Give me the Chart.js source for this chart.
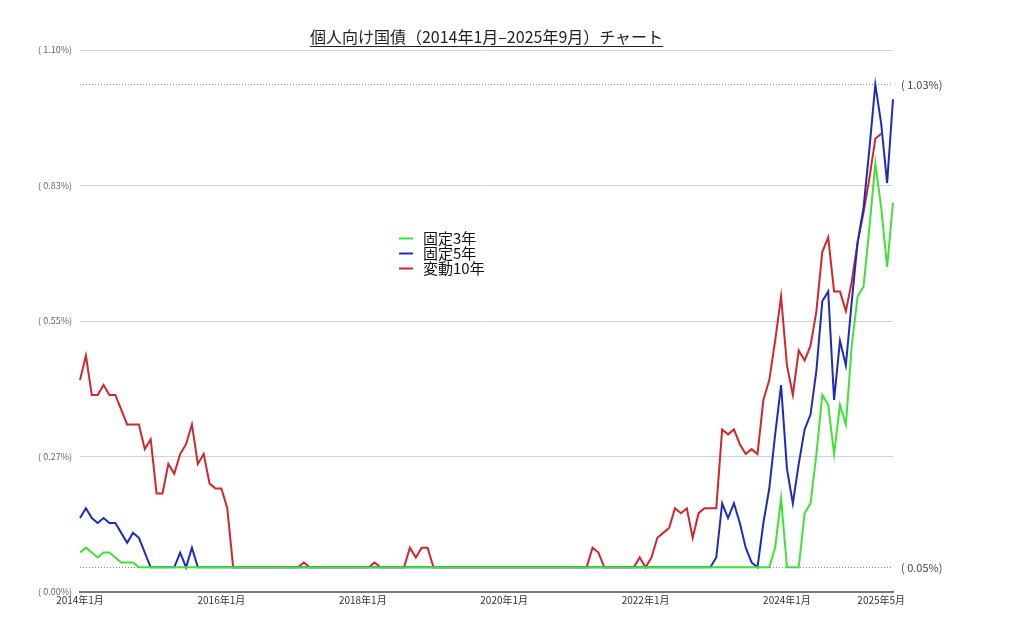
<!DOCTYPE html>
<html lang="ja">
<head>
<meta charset="UTF-8">
<title>個人向け国債チャート</title>
<style>
  html, body { margin: 0; padding: 0; background: #fff; }
  .wrap { position: relative; width: 1024px; height: 622px; }
  canvas { position: absolute; left: 0; top: 0; }
  #title {
    position: absolute; left: 80px; width: 813px; top: 24px;
    text-align: center; color: #222;
    font: 16px "Noto Sans CJK JP", sans-serif;
    text-decoration: underline; text-underline-offset: 3px;
  }
</style>
</head>
<body>
<div class="wrap">
  <canvas id="bondChart" width="1024" height="622"></canvas>
  <div id="title">個人向け国債（2014年1月–2025年9月）チャート</div>
</div>
<script src="https://cdn.jsdelivr.net/npm/chart.js@4.4.1/dist/chart.umd.min.js"></script>
<script>
  // 2014年1月 から 2025年7月 まで毎月
  var startYear = 2014, startMonth = 1, monthCount = 139;

  var fixed3 = [
    0.08, 0.09, 0.08, 0.07, 0.08, 0.08, 0.07, 0.06, 0.06, 0.06, 0.05, 0.05,
    0.05, 0.05, 0.05, 0.05, 0.05, 0.05, 0.05, 0.05, 0.05, 0.05, 0.05, 0.05,
    0.05, 0.05, 0.05, 0.05, 0.05, 0.05, 0.05, 0.05, 0.05, 0.05, 0.05, 0.05,
    0.05, 0.05, 0.05, 0.05, 0.05, 0.05, 0.05, 0.05, 0.05, 0.05, 0.05, 0.05,
    0.05, 0.05, 0.05, 0.05, 0.05, 0.05, 0.05, 0.05, 0.05, 0.05, 0.05, 0.05,
    0.05, 0.05, 0.05, 0.05, 0.05, 0.05, 0.05, 0.05, 0.05, 0.05, 0.05, 0.05,
    0.05, 0.05, 0.05, 0.05, 0.05, 0.05, 0.05, 0.05, 0.05, 0.05, 0.05, 0.05,
    0.05, 0.05, 0.05, 0.05, 0.05, 0.05, 0.05, 0.05, 0.05, 0.05, 0.05, 0.05,
    0.05, 0.05, 0.05, 0.05, 0.05, 0.05, 0.05, 0.05, 0.05, 0.05, 0.05, 0.05,
    0.05, 0.05, 0.05, 0.05, 0.05, 0.05, 0.05, 0.05, 0.05, 0.05, 0.09, 0.19,
    0.05, 0.05, 0.05, 0.16, 0.18, 0.28, 0.40, 0.38, 0.28, 0.38, 0.34, 0.50,
    0.60, 0.62, 0.74, 0.87, 0.78, 0.66, 0.79
  ];

  var fixed5 = [
    0.15, 0.17, 0.15, 0.14, 0.15, 0.14, 0.14, 0.12, 0.10, 0.12, 0.11, 0.08,
    0.05, 0.05, 0.05, 0.05, 0.05, 0.08, 0.05, 0.09, 0.05, 0.05, 0.05, 0.05,
    0.05, 0.05, 0.05, 0.05, 0.05, 0.05, 0.05, 0.05, 0.05, 0.05, 0.05, 0.05,
    0.05, 0.05, 0.05, 0.05, 0.05, 0.05, 0.05, 0.05, 0.05, 0.05, 0.05, 0.05,
    0.05, 0.05, 0.05, 0.05, 0.05, 0.05, 0.05, 0.05, 0.05, 0.05, 0.05, 0.05,
    0.05, 0.05, 0.05, 0.05, 0.05, 0.05, 0.05, 0.05, 0.05, 0.05, 0.05, 0.05,
    0.05, 0.05, 0.05, 0.05, 0.05, 0.05, 0.05, 0.05, 0.05, 0.05, 0.05, 0.05,
    0.05, 0.05, 0.05, 0.05, 0.05, 0.05, 0.05, 0.05, 0.05, 0.05, 0.05, 0.05,
    0.05, 0.05, 0.05, 0.05, 0.05, 0.05, 0.05, 0.05, 0.05, 0.05, 0.05, 0.05,
    0.07, 0.18, 0.15, 0.18, 0.14, 0.09, 0.06, 0.05, 0.14, 0.21, 0.32, 0.42,
    0.25, 0.18, 0.26, 0.33, 0.36, 0.45, 0.59, 0.61, 0.39, 0.51, 0.46, 0.59,
    0.71, 0.78, 0.90, 1.03, 0.95, 0.83, 1.00
  ];

  // 変動10年は2025年5月まで
  var floating10 = [
    0.43, 0.48, 0.40, 0.40, 0.42, 0.40, 0.40, 0.37, 0.34, 0.34, 0.34, 0.29,
    0.31, 0.20, 0.20, 0.26, 0.24, 0.28, 0.30, 0.34, 0.26, 0.28, 0.22, 0.21,
    0.21, 0.17, 0.05, 0.05, 0.05, 0.05, 0.05, 0.05, 0.05, 0.05, 0.05, 0.05,
    0.05, 0.05, 0.06, 0.05, 0.05, 0.05, 0.05, 0.05, 0.05, 0.05, 0.05, 0.05,
    0.05, 0.05, 0.06, 0.05, 0.05, 0.05, 0.05, 0.05, 0.09, 0.07, 0.09, 0.09,
    0.05, 0.05, 0.05, 0.05, 0.05, 0.05, 0.05, 0.05, 0.05, 0.05, 0.05, 0.05,
    0.05, 0.05, 0.05, 0.05, 0.05, 0.05, 0.05, 0.05, 0.05, 0.05, 0.05, 0.05,
    0.05, 0.05, 0.05, 0.09, 0.08, 0.05, 0.05, 0.05, 0.05, 0.05, 0.05, 0.07,
    0.05, 0.07, 0.11, 0.12, 0.13, 0.17, 0.16, 0.17, 0.11, 0.16, 0.17, 0.17,
    0.17, 0.33, 0.32, 0.33, 0.30, 0.28, 0.29, 0.28, 0.39, 0.43, 0.51, 0.60,
    0.46, 0.40, 0.49, 0.47, 0.50, 0.57, 0.69, 0.72, 0.61, 0.61, 0.57, 0.63,
    0.71, 0.77, 0.84, 0.92, 0.93
  ];

  var seriesNames = ['固定3年', '固定5年', '変動10年'];
  var seriesColors = ['#3fe236', '#1f2bbf', '#d2262c'];

  var xTickLabels = ['2014年1月', '2016年1月', '2018年1月', '2020年1月', '2022年1月', '2024年1月', '2025年5月'];
  var yTickValues = [0, 0.275, 0.55, 0.825, 1.10];
  var yTickLabels = ['( 0.00%)', '( 0.27%)', '( 0.55%)', '( 0.83%)', '( 1.10%)'];

  var refValues = [1.03, 0.05];
  var refLabels = ['( 1.03%)', '( 0.05%)'];

  var months = [];
  for (var k = 0; k < monthCount; k++) {
    var m = startMonth - 1 + k;
    months.push((startYear + Math.floor(m / 12)) + '年' + (m % 12 + 1) + '月');
  }

  var fontFamily = '"Noto Sans CJK JP", "Noto Sans", sans-serif';

  // 点線の基準線と右側のラベル
  var refLinePlugin = {
    id: 'refLines',
    beforeDatasetsDraw: function (chart) {
      var ctx = chart.ctx, area = chart.chartArea, yScale = chart.scales.y;
      ctx.save();
      refValues.forEach(function (v, i) {
        var py = Math.round(yScale.getPixelForValue(v)) + 0.5;
        ctx.strokeStyle = '#8a8a8a';
        ctx.lineWidth = 1;
        ctx.setLineDash([1, 2]);
        ctx.beginPath();
        ctx.moveTo(area.left, py);
        ctx.lineTo(area.right, py);
        ctx.stroke();
        ctx.setLineDash([]);
        ctx.fillStyle = '#444';
        ctx.font = '11px ' + fontFamily;
        ctx.textAlign = 'left';
        ctx.textBaseline = 'middle';
        ctx.fillText(refLabels[i], area.right + 8, py);
      });
      ctx.restore();
    }
  };

  // 凡例（グラフ内に配置）
  var innerLegend = {
    id: 'innerLegend',
    afterDraw: function (chart) {
      var ctx = chart.ctx;
      ctx.save();
      ctx.font = '15px ' + fontFamily;
      ctx.textAlign = 'left';
      ctx.textBaseline = 'middle';
      chart.data.datasets.forEach(function (ds, i) {
        var y = 238 + i * 15;
        ctx.strokeStyle = ds.borderColor;
        ctx.lineWidth = 2;
        ctx.beginPath();
        ctx.moveTo(399, y + 0.5);
        ctx.lineTo(413, y + 0.5);
        ctx.stroke();
        ctx.fillStyle = '#111';
        ctx.fillText(ds.label, 423, y);
      });
      ctx.restore();
    }
  };

  var seriesData = [fixed3, fixed5, floating10];
  var datasets = seriesData.map(function (d, i) {
    return {
      label: seriesNames[i],
      data: d,
      borderColor: seriesColors[i],
      backgroundColor: seriesColors[i],
      borderWidth: 2,
      pointRadius: 0,
      tension: 0,
      fill: false,
      order: i
    };
  });

  new Chart(document.getElementById('bondChart'), {
    type: 'line',
    data: { labels: months, datasets: datasets },
    options: {
      responsive: false,
      animation: false,
      layout: { padding: { top: 50, right: 131, bottom: 0, left: 0 } },
      plugins: {
        legend: { display: false },
        title: { display: false },
        tooltip: { enabled: false }
      },
      scales: {
        x: {
          offset: false,
          grid: { display: false, drawTicks: false },
          border: { display: true, color: '#777', width: 2 },
          afterFit: function (scale) { scale.height = 30; },
          ticks: {
            autoSkip: false,
            maxRotation: 0,
            padding: 2,
            color: '#333',
            font: { family: fontFamily, size: 10 },
            callback: function (value) {
              var l = this.getLabelForValue(value);
              return xTickLabels.indexOf(l) >= 0 ? l : null;
            }
          }
        },
        y: {
          min: 0,
          max: 1.10,
          afterFit: function (scale) { scale.width = 80; },
          afterBuildTicks: function (scale) {
            scale.ticks = yTickValues.map(function (v) { return { value: v }; });
          },
          grid: { color: '#d2d2d2', lineWidth: 1, drawTicks: false },
          border: { display: false },
          ticks: {
            padding: 8,
            color: '#666',
            font: { family: fontFamily, size: 9 },
            callback: function (value, index) { return yTickLabels[index]; }
          }
        }
      }
    },
    plugins: [refLinePlugin, innerLegend]
  });
</script>
</body>
</html>
